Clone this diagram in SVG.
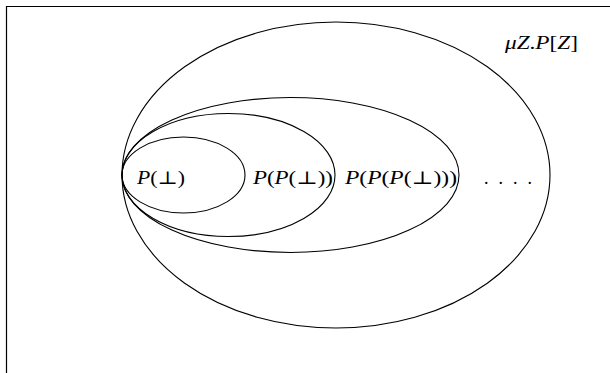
<svg xmlns="http://www.w3.org/2000/svg" width="610" height="373" viewBox="0 0 610 373">
<style>
.e{fill:none;stroke:#000;stroke-width:1.1}
.t{font-family:"Liberation Serif","DejaVu Serif",serif;font-size:18px;fill:#000}
.i{font-style:italic}
</style>
<rect width="610" height="373" fill="#fff"/>
<g id="frame"><path d="M6.5,373 V6.5 H610" fill="none" stroke="#000" stroke-width="1.2"/></g>
<g id="outer"><ellipse class="e" cx="336" cy="175" rx="214" ry="153"/>
<text class="t" x="505" y="49" textLength="73" lengthAdjust="spacingAndGlyphs"><tspan class="i">μZ</tspan>.<tspan class="i">P</tspan>[<tspan class="i">Z</tspan>]</text></g>
<g id="p3"><ellipse class="e" cx="290.5" cy="175" rx="168.5" ry="77.5"/>
<text class="t" x="345" y="184" textLength="112" lengthAdjust="spacingAndGlyphs"><tspan class="i">P</tspan>(<tspan class="i">P</tspan>(<tspan class="i">P</tspan>(⊥)))</text></g>
<g id="p2"><ellipse class="e" cx="228.5" cy="175" rx="106.5" ry="61.5"/>
<text class="t" x="253" y="184" textLength="80" lengthAdjust="spacingAndGlyphs"><tspan class="i">P</tspan>(<tspan class="i">P</tspan>(⊥))</text></g>
<g id="p1"><ellipse class="e" cx="183.5" cy="175" rx="61.5" ry="38"/>
<text class="t" x="137" y="184" textLength="48" lengthAdjust="spacingAndGlyphs"><tspan class="i">P</tspan>(⊥)</text></g>
<g id="dots"><text class="t" x="484" y="184" textLength="48" lengthAdjust="spacing">. . . .</text></g>
</svg>
